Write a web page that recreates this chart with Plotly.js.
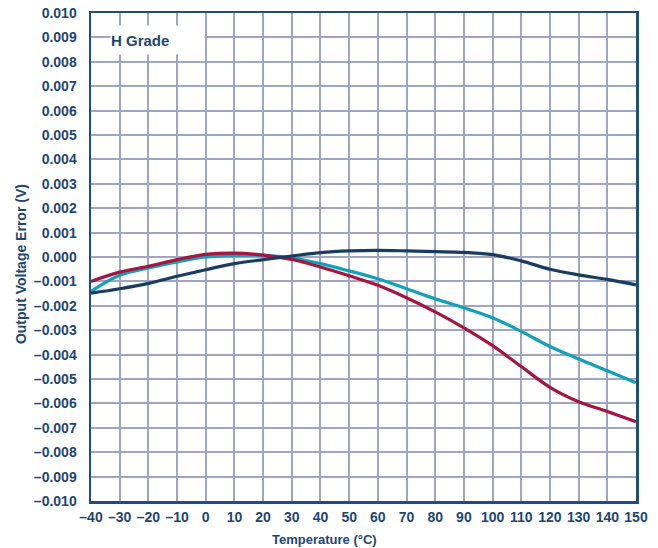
<!DOCTYPE html>
<html>
<head>
<meta charset="utf-8">
<script src="https://cdn.plot.ly/plotly-3.0.1.min.js"></script>
<style>html,body{margin:0;padding:0;background:#fff;}#chart{width:658px;height:548px;}</style>
</head>
<body>
<div id="chart"></div>
<script>
const temps = [-40,-30,-20,-10,0,10,20,30,40,50,60,70,80,90,100,110,120,130,140,150];
const navyVals = [-1.48,-1.30,-1.08,-0.79,-0.52,-0.27,-0.11,0.04,0.18,0.25,0.27,0.25,0.22,0.19,0.10,-0.16,-0.50,-0.73,-0.92,-1.14];
const tealVals = [-1.41,-0.75,-0.45,-0.20,0.00,0.07,0.07,-0.03,-0.27,-0.57,-0.89,-1.30,-1.71,-2.08,-2.49,-3.05,-3.67,-4.18,-4.66,-5.15];
const redVals  = [-1.00,-0.62,-0.38,-0.11,0.11,0.16,0.08,-0.10,-0.41,-0.77,-1.16,-1.67,-2.25,-2.90,-3.63,-4.49,-5.34,-5.93,-6.33,-6.75];
const xTickVals = [-40,-30,-20,-10,0,10,20,30,40,50,60,70,80,90,100,110,120,130,140,150];
const yTickVals = [];
for (let i = -10; i <= 10; i++) yTickVals.push(i/1000);
const fmt = v => { const s = Math.abs(v).toFixed(3); return (v < -1e-9 ? '\u2013' : '') + s; };
const yTickText = yTickVals.map(fmt);
const xTickText = xTickVals.map(v => v < 0 ? '\u2013' + Math.abs(v) : String(v));
const xTitle = 'Temperature (°C)';
const yTitle = 'Output Voltage Error (V)';
const gradeLabel = 'H Grade';

const toV = a => a.map(v => v/1000);
const mk = (vals, color) => ({x: temps, y: toV(vals), mode: 'lines', line: {color: color, width: 3.2, shape: 'spline', smoothing: 1}, hoverinfo: 'skip', showlegend: false});
const data = [mk(tealVals, '#12a0bd'), mk(redVals, '#a51540'), mk(navyVals, '#173d63')];

const txtColor = '#1d4773';
const fam = 'Liberation Sans, Arial, sans-serif';
const grid = '#a0a5c3';
const layout = {
  width: 658, height: 548,
  margin: {l: 91, r: 22, t: 13, b: 47, pad: 0},
  paper_bgcolor: '#ffffff', plot_bgcolor: '#ffffff',
  font: {family: fam, size: 13, color: txtColor, weight: 'bold'},
  xaxis: {range: [-40, 150], tickvals: xTickVals, ticktext: xTickText, showgrid: true, gridcolor: grid, gridwidth: 2,
    showline: true, mirror: true, linecolor: '#1f4e7a', linewidth: 2.5, zeroline: false, ticks: '', ticklen: 0,
    ticklabelstandoff: 2,
    tickfont: {family: fam, size: 14, color: txtColor, weight: 'bold'}},
  yaxis: {range: [-0.010, 0.010], tickvals: yTickVals, ticktext: yTickText, showgrid: true, gridcolor: grid, gridwidth: 2,
    showline: true, mirror: true, linecolor: '#1f4e7a', linewidth: 2.5, zeroline: false, ticks: '', ticklen: 0,
    ticklabelstandoff: 9,
    tickfont: {family: fam, size: 14, color: txtColor, weight: 'bold'}},
  annotations: [
    {xref: 'paper', yref: 'paper', x: 0.035, y: 0.976, xanchor: 'left', yanchor: 'top', text: gradeLabel, showarrow: false,
      bgcolor: '#ffffff', width: 93, height: 28, align: 'left', borderpad: 0,
      font: {family: fam, size: 15, color: txtColor, weight: 'bold'}},
    {xref: 'paper', yref: 'paper', x: 0.429, y: -0.078, xanchor: 'center', yanchor: 'middle', text: xTitle, showarrow: false,
      font: {family: fam, size: 13, color: txtColor, weight: 'bold'}},
    {xref: 'paper', yref: 'paper', x: -0.128, y: 0.486, xanchor: 'center', yanchor: 'middle', text: yTitle, showarrow: false, textangle: -90,
      font: {family: fam, size: 14, color: txtColor, weight: 'bold'}}
  ]
};
Plotly.newPlot('chart', data, layout, {staticPlot: true, displayModeBar: false});
</script>
</body>
</html>
